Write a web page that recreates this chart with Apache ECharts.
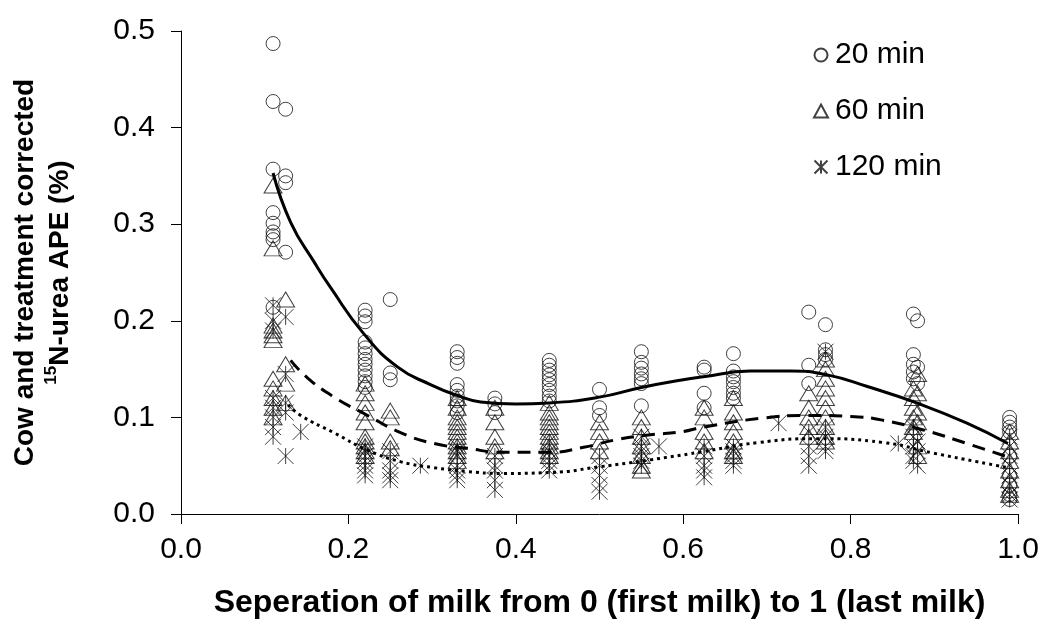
<!DOCTYPE html>
<html>
<head>
<meta charset="utf-8">
<script src="https://cdn.jsdelivr.net/npm/echarts@6/dist/echarts.min.js"></script>
<style>
html,body{margin:0;padding:0;background:#fff;}
#chart{width:1043px;height:631px;}
</style>
</head>
<body>
<div id="chart"></div>
<script>
// ---- data ----
const seriesNames = ['20 min', '60 min', '120 min'];

const circles20 = [
 [0.11,0.487],[0.11,0.427],[0.11,0.357],[0.11,0.312],[0.11,0.301],[0.11,0.292],[0.11,0.288],[0.11,0.284],[0.11,0.214],
 [0.125,0.419],[0.125,0.350],[0.125,0.343],[0.125,0.271],
 [0.22,0.211],[0.22,0.205],[0.22,0.199],[0.22,0.178],[0.22,0.172],[0.22,0.166],[0.22,0.160],[0.22,0.155],[0.22,0.149],[0.22,0.143],[0.22,0.137],[0.22,0.131],
 [0.25,0.222],[0.25,0.146],[0.25,0.139],
 [0.33,0.168],[0.33,0.162],[0.33,0.156],[0.33,0.134],[0.33,0.128],[0.33,0.122],[0.33,0.117],[0.33,0.112],[0.33,0.105],
 [0.375,0.120],[0.375,0.114],[0.375,0.105],
 [0.44,0.159],[0.44,0.154],[0.44,0.149],[0.44,0.144],[0.44,0.139],[0.44,0.134],[0.44,0.128],[0.44,0.122],[0.44,0.117],
 [0.5,0.129],[0.5,0.110],[0.5,0.102],
 [0.55,0.168],[0.55,0.157],[0.55,0.151],[0.55,0.145],[0.55,0.140],[0.55,0.135],[0.55,0.112],
 [0.625,0.152],[0.625,0.149],[0.625,0.125],[0.625,0.110],
 [0.66,0.166],[0.66,0.148],[0.66,0.142],[0.66,0.137],[0.66,0.131],[0.66,0.125],[0.66,0.120],
 [0.75,0.209],[0.75,0.154],[0.75,0.135],
 [0.77,0.196],[0.77,0.170],[0.77,0.165],[0.77,0.160],
 [0.875,0.207],[0.875,0.165],[0.875,0.155],[0.875,0.147],[0.875,0.140],
 [0.88,0.200],[0.88,0.152],[0.88,0.135],
 [0.99,0.100],[0.99,0.095],[0.99,0.090],[0.99,0.085],[0.99,0.060],[0.99,0.040],[0.99,0.030],[0.99,0.020],[0.99,0.015]
];

const triangles60 = [
 [0.11,0.340],[0.11,0.275],[0.11,0.195],[0.11,0.190],[0.11,0.185],[0.11,0.180],[0.11,0.140],[0.11,0.130],[0.11,0.120],[0.11,0.110],[0.11,0.100],
 [0.125,0.222],[0.125,0.155],[0.125,0.135],[0.125,0.115],
 [0.22,0.135],[0.22,0.125],[0.22,0.115],[0.22,0.105],[0.22,0.095],[0.22,0.080],[0.22,0.075],[0.22,0.070],[0.22,0.065],[0.22,0.060],
 [0.25,0.107],[0.25,0.100],[0.25,0.075],[0.25,0.068],
 [0.33,0.120],[0.33,0.110],[0.33,0.100],[0.33,0.095],[0.33,0.090],[0.33,0.085],[0.33,0.080],[0.33,0.075],[0.33,0.070],[0.33,0.065],[0.33,0.060],[0.33,0.055],
 [0.375,0.110],[0.375,0.095],[0.375,0.080],[0.375,0.070],[0.375,0.065],
 [0.44,0.115],[0.44,0.105],[0.44,0.100],[0.44,0.095],[0.44,0.090],[0.44,0.085],[0.44,0.080],[0.44,0.075],[0.44,0.070],[0.44,0.065],[0.44,0.060],
 [0.5,0.095],[0.5,0.085],[0.5,0.075],[0.5,0.065],
 [0.55,0.100],[0.55,0.090],[0.55,0.080],[0.55,0.070],[0.55,0.060],[0.55,0.050],[0.55,0.045],
 [0.625,0.110],[0.625,0.100],[0.625,0.085],[0.625,0.075],[0.625,0.065],
 [0.66,0.120],[0.66,0.105],[0.66,0.095],[0.66,0.085],[0.66,0.075],[0.66,0.065],[0.66,0.060],
 [0.75,0.125],[0.75,0.110],[0.75,0.100],[0.75,0.090],[0.75,0.080],
 [0.77,0.160],[0.77,0.150],[0.77,0.140],[0.77,0.130],[0.77,0.120],[0.77,0.110],[0.77,0.100],[0.77,0.090],[0.77,0.080],[0.77,0.075],
 [0.875,0.130],[0.875,0.120],[0.875,0.110],[0.875,0.100],[0.875,0.090],[0.875,0.085],
 [0.88,0.145],[0.88,0.125],[0.88,0.105],[0.88,0.095],[0.88,0.070],[0.88,0.060],
 [0.99,0.085],[0.99,0.075],[0.99,0.065],[0.99,0.055],[0.99,0.045],[0.99,0.035],[0.99,0.025],[0.99,0.020]
];

const stars120 = [
 [0.11,0.216],[0.11,0.200],[0.11,0.190],[0.11,0.120],[0.11,0.110],[0.11,0.100],[0.11,0.090],[0.11,0.080],
 [0.125,0.204],[0.125,0.145],[0.125,0.115],[0.125,0.105],[0.125,0.060],
 [0.143,0.085],
 [0.22,0.070],[0.22,0.065],[0.22,0.060],[0.22,0.055],[0.22,0.050],[0.22,0.045],[0.22,0.040],
 [0.25,0.065],[0.25,0.055],[0.25,0.045],[0.25,0.040],[0.25,0.035],
 [0.286,0.050],
 [0.33,0.070],[0.33,0.065],[0.33,0.060],[0.33,0.050],[0.33,0.045],[0.33,0.040],[0.33,0.035],
 [0.375,0.060],[0.375,0.050],[0.375,0.045],[0.375,0.035],[0.375,0.025],
 [0.44,0.075],[0.44,0.065],[0.44,0.060],[0.44,0.055],[0.44,0.050],[0.44,0.045],
 [0.5,0.060],[0.5,0.050],[0.5,0.040],[0.5,0.030],[0.5,0.023],
 [0.55,0.080],[0.55,0.070],[0.55,0.065],[0.55,0.060],[0.55,0.055],[0.55,0.050],
 [0.571,0.070],
 [0.625,0.070],[0.625,0.060],[0.625,0.050],[0.625,0.045],[0.625,0.038],
 [0.66,0.070],[0.66,0.065],[0.66,0.060],[0.66,0.055],[0.66,0.050],
 [0.714,0.094],
 [0.75,0.085],[0.75,0.070],[0.75,0.060],[0.75,0.050],
 [0.77,0.168],[0.77,0.090],[0.77,0.080],[0.77,0.070],[0.77,0.065],
 [0.857,0.073],
 [0.875,0.090],[0.875,0.080],[0.875,0.070],[0.875,0.060],[0.875,0.055],
 [0.88,0.075],[0.88,0.065],[0.88,0.050],
 [0.99,0.080],[0.99,0.070],[0.99,0.060],[0.99,0.050],[0.99,0.040],[0.99,0.030],[0.99,0.020],[0.99,0.015]
];

// fitted curves
const fit20 = [
 [0.110,0.353],[0.131,0.302],[0.159,0.261],[0.179,0.234],[0.218,0.187],[0.259,0.152],[0.298,0.134],[0.329,0.123],
 [0.358,0.116],[0.400,0.114],[0.440,0.115],[0.500,0.121],[0.550,0.131],[0.600,0.139],[0.624,0.142],[0.680,0.148],
 [0.728,0.148],[0.772,0.144],[0.820,0.132],[0.879,0.115],[0.939,0.094],[0.988,0.073]
];
const fit60 = [
 [0.131,0.159],[0.151,0.141],[0.183,0.121],[0.223,0.102],[0.263,0.084],[0.302,0.073],[0.342,0.068],[0.382,0.064],
 [0.442,0.064],[0.481,0.069],[0.521,0.077],[0.561,0.082],[0.597,0.085],[0.624,0.090],[0.692,0.099],[0.748,0.102],
 [0.800,0.101],[0.839,0.097],[0.887,0.087],[0.939,0.073],[0.988,0.059]
];
const fit120 = [
 [0.128,0.113],[0.143,0.102],[0.183,0.084],[0.223,0.066],[0.263,0.054],[0.302,0.048],[0.342,0.044],[0.382,0.042],
 [0.442,0.043],[0.501,0.049],[0.560,0.056],[0.620,0.064],[0.690,0.074],[0.760,0.078],[0.839,0.074],[0.899,0.063],
 [0.988,0.048]
];

const xTickLabels = ['0.0','0.2','0.4','0.6','0.8','1.0'];
const yTickLabels = ['0.0','0.1','0.2','0.3','0.4','0.5'];

// ---- chart ----
const FONT = "'Liberation Sans', Arial, sans-serif";
const STAR = 'path://M0,0L10,10M0,10L10,0M5,0L5,10';
const hollow = {color: 'rgba(0,0,0,0)', borderColor: '#111', borderWidth: 1};

const chart = echarts.init(document.getElementById('chart'), null, {renderer: 'canvas'});
chart.setOption({
  animation: false,
  backgroundColor: '#fff',
  textStyle: {fontFamily: FONT},
  grid: {left: 180, right: 25, top: 31, bottom: 117, containLabel: false},
  legend: {
    data: seriesNames,
    orient: 'vertical',
    left: 808,
    top: 35,
    itemWidth: 14,
    itemHeight: 13,
    itemGap: 26,
    textStyle: {fontFamily: FONT, fontSize: 30, color: '#000', padding: [0, 0, 0, 2]}
  },
  xAxis: {
    type: 'value', min: 0, max: 1, interval: 0.2,
    axisLine: {show: true, lineStyle: {color: '#000', width: 1}},
    axisTick: {show: true, inside: false, length: 10, lineStyle: {color: '#000'}},
    splitLine: {show: false},
    axisLabel: {fontFamily: FONT, fontSize: 30, color: '#000', margin: 21,
      formatter: v => xTickLabels[Math.round(v * 5)]},
    name: 'Seperation of milk from 0 (first milk) to 1 (last milk)',
    nameLocation: 'middle', nameGap: 73,
    nameTextStyle: {fontFamily: FONT, fontSize: 32, fontWeight: 'bold', color: '#000'}
  },
  yAxis: {
    type: 'value', min: 0, max: 0.5, interval: 0.1,
    axisLine: {show: true, lineStyle: {color: '#000', width: 1}},
    axisTick: {show: true, inside: false, length: 10, lineStyle: {color: '#000'}},
    splitLine: {show: false},
    axisLabel: {fontFamily: FONT, fontSize: 30, color: '#000', margin: 26,
      formatter: v => yTickLabels[Math.round(v * 10)]},
    name: '{a|Cow and treatment corrected}\n{s|15}{a|N-urea APE (%)}',
    nameLocation: 'middle', nameGap: 103, nameRotate: 90,
    nameTextStyle: {
      fontFamily: FONT, fontWeight: 'bold', color: '#000', lineHeight: 35,
      rich: {
        a: {fontFamily: FONT, fontSize: 28, fontWeight: 'bold', color: '#000', lineHeight: 35},
        s: {fontFamily: FONT, fontSize: 17, fontWeight: 'bold', color: '#000', verticalAlign: 'top', lineHeight: 35, padding: [0,0,10,0]}
      }
    }
  },
  series: [
    {name: '20 min', type: 'scatter', data: circles20, symbol: 'circle', symbolSize: 14, itemStyle: hollow, z: 2},
    {name: '60 min', type: 'scatter', data: triangles60, symbol: 'triangle', symbolSize: [18, 15], itemStyle: hollow, z: 2},
    {name: '120 min', type: 'scatter', data: stars120, symbol: STAR, symbolSize: 16, itemStyle: hollow, z: 2},
    {type: 'line', data: fit20, smooth: true, symbol: 'none', lineStyle: {color: '#000', width: 3, type: 'solid'}, z: 3},
    {type: 'line', data: fit60, smooth: true, symbol: 'none', lineStyle: {color: '#000', width: 3, type: [13, 8]}, z: 3},
    {type: 'line', data: fit120, smooth: true, symbol: 'none', lineStyle: {color: '#000', width: 3, type: [3, 4]}, z: 3}
  ]
});
</script>
</body>
</html>
